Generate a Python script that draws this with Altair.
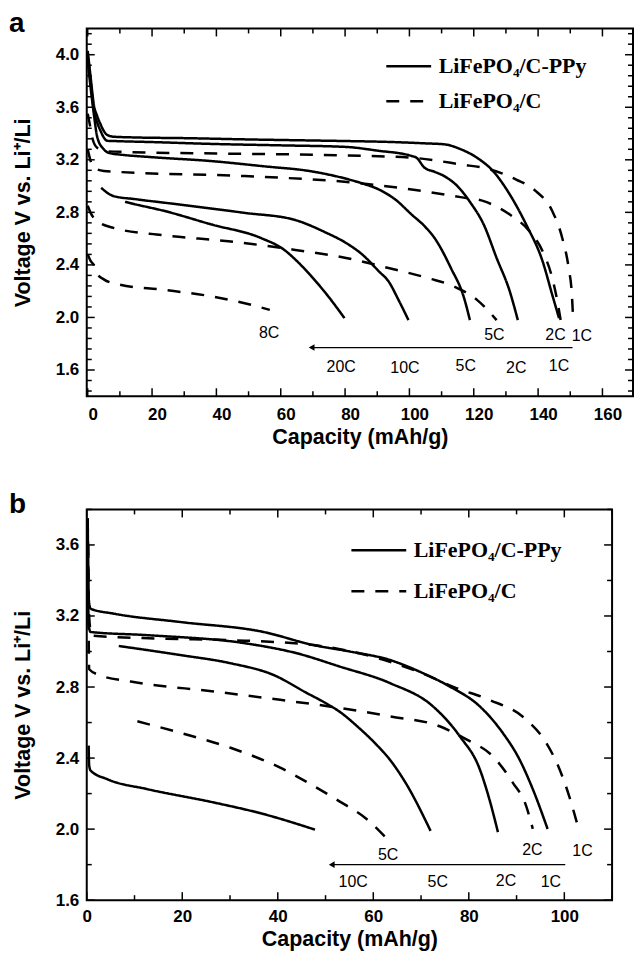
import altair as alt
import pandas as pd

SAMPLE_PPY = "LiFePO\u2084/C-PPy"
SAMPLE_C = "LiFePO\u2084/C"

# ---------------- Panel a : discharge curves ----------------
a_ppy_1C_x = [0, 0.9, 1.9, 3, 4, 5, 6, 8, 15, 30, 50, 70, 80, 95, 105, 110.8, 116, 121, 126, 131.2, 136.3, 141.4, 144.4, 146.5]
a_ppy_1C_y = [4.03, 3.83, 3.62, 3.53, 3.47, 3.42, 3.39, 3.376, 3.37, 3.365, 3.355, 3.347, 3.343, 3.335, 3.325, 3.318, 3.28, 3.216, 3.114, 2.936, 2.707, 2.427, 2.172, 1.995]
a_ppy_2C_x = [0, 0.9, 1.9, 3, 4, 5, 6, 8, 20, 40, 60, 80.3, 90, 100.7, 102.2, 104.7, 107.8, 110.8, 114.9, 119, 123.1, 127.1, 131.2, 133.7]
a_ppy_2C_y = [4.0, 3.8, 3.58, 3.48, 3.42, 3.37, 3.345, 3.343, 3.335, 3.32, 3.31, 3.298, 3.27, 3.229, 3.216, 3.14, 3.109, 3.076, 3.0, 2.873, 2.707, 2.453, 2.198, 1.98]
a_ppy_5C_x = [0, 0.9, 1.9, 3, 5, 7, 10, 20, 38.6, 55, 69.1, 80.3, 85.4, 90.5, 95.6, 100.7, 104.7, 107.8, 112.9, 117, 118.8]
a_ppy_5C_y = [3.95, 3.75, 3.55, 3.37, 3.28, 3.25, 3.24, 3.22, 3.19, 3.15, 3.114, 3.056, 3.02, 2.974, 2.898, 2.783, 2.695, 2.605, 2.376, 2.147, 1.98]
a_ppy_10C_x = [4.2, 6, 8, 15, 28.4, 48.8, 64, 74.2, 80.3, 85.4, 90.5, 93.5, 96.6, 99.7]
a_ppy_10C_y = [2.987, 2.95, 2.924, 2.9, 2.86, 2.796, 2.745, 2.644, 2.567, 2.478, 2.351, 2.275, 2.134, 1.98]
a_ppy_20C_x = [11.6, 15, 23.3, 38.6, 53.8, 61, 65, 69.1, 75.2, 79.8]
a_ppy_20C_y = [2.88, 2.86, 2.814, 2.707, 2.605, 2.516, 2.43, 2.325, 2.147, 1.995]

a_c_1C_x = [0, 0.8, 1.5, 3, 6, 13.1, 40, 79.3, 100.7, 115.9, 125.1, 133.2, 139.3, 144.4, 147.5, 149.5, 150.5, 150.8]
a_c_1C_y = [3.55, 3.45, 3.36, 3.29, 3.265, 3.259, 3.248, 3.234, 3.216, 3.165, 3.127, 3.05, 2.962, 2.81, 2.605, 2.376, 2.172, 2.033]
a_c_2C_x = [0, 0.8, 1.9, 5, 10, 48.8, 83.4, 100.7, 115.9, 123.1, 131.2, 137.3, 141.4, 144.4, 146, 147]
a_c_2C_y = [3.28, 3.2, 3.14, 3.115, 3.107, 3.076, 3.025, 2.974, 2.916, 2.885, 2.783, 2.657, 2.504, 2.3, 2.122, 1.98]
a_c_5C_x = [0, 0.9, 3, 8, 23.3, 43.7, 64, 80.3, 93.5, 105.7, 113.9, 121, 127.1]
a_c_5C_y = [2.85, 2.796, 2.733, 2.682, 2.626, 2.58, 2.516, 2.453, 2.376, 2.3, 2.236, 2.134, 1.98]
a_c_8C_x = [0, 0.9, 1.9, 3, 5, 10, 23.3, 38.6, 50.8, 56.6]
a_c_8C_y = [2.48, 2.43, 2.40, 2.33, 2.29, 2.249, 2.211, 2.16, 2.096, 2.058]

a_below_text = ["20C", "10C", "5C", "2C", "1C"]
a_below_x = [78.8, 98.6, 117.5, 133.2, 146.5]
a_below_y = [1.623, 1.613, 1.631, 1.613, 1.631]
a_above_text = ["8C", "5C", "2C", "1C"]
a_above_x = [56.4, 126.4, 145.4, 153.6]
a_above_y = [1.885, 1.867, 1.867, 1.855]
a_arrow_from = [150.7]
a_arrow_to = [69.6]
a_arrow_y = [1.771]

a_x_major = [0, 20, 40, 60, 80, 100, 120, 140, 160]
a_x_minor = [10, 30, 50, 70, 90, 110, 130, 150]
a_y_major = [1.6, 2.0, 2.4, 2.8, 3.2, 3.6, 4.0]
a_y_minor = [1.44, 1.52, 1.68, 1.76, 1.84, 1.92, 2.08, 2.16, 2.24, 2.32, 2.48, 2.56, 2.64, 2.72,
             2.88, 2.96, 3.04, 3.12, 3.28, 3.36, 3.44, 3.52, 3.68, 3.76, 3.84, 3.92, 4.08, 4.16]

# ---------------- Panel b : discharge curves ----------------
b_ppy_1C_x = [0.2, 0.4, 0.8, 5.7, 19.6, 37, 47.5, 55.1, 63.5, 70.4, 76, 82.3, 87.1, 90.6, 93.4, 96.5]
b_ppy_1C_y = [3.75, 3.3, 3.241, 3.213, 3.166, 3.11, 3.036, 3.0, 2.952, 2.878, 2.803, 2.691, 2.542, 2.393, 2.225, 2.001]
b_ppy_2C_x = [0.2, 0.4, 0.8, 12.7, 33.5, 44, 53, 63.5, 72.5, 78.1, 82.3, 84.3, 86.1]
b_ppy_2C_y = [3.7, 3.15, 3.11, 3.092, 3.045, 2.99, 2.915, 2.822, 2.691, 2.523, 2.337, 2.169, 1.983]
b_ppy_5C_x = [6.7, 19.6, 30.1, 39.1, 46.1, 50, 53, 57, 60.5, 63.5, 67, 72]
b_ppy_5C_y = [3.031, 2.98, 2.934, 2.868, 2.766, 2.71, 2.66, 2.57, 2.48, 2.39, 2.25, 1.99]
b_ppy_10C_x = [0.4, 0.5, 0.8, 4.3, 12.7, 26.6, 37, 47.8]
b_ppy_10C_y = [2.47, 2.36, 2.33, 2.281, 2.225, 2.15, 2.085, 1.997]

b_c_1C_x = [0.2, 0.5, 1, 14.8, 30.1, 47.5, 60, 70, 77.4, 84.3, 92, 96.2, 99, 101, 102.6, 103]
b_c_1C_y = [3.75, 3.2, 3.09, 3.073, 3.064, 3.036, 2.97, 2.88, 2.794, 2.728, 2.617, 2.486, 2.337, 2.187, 2.039, 2.0]
b_c_2C_x = [0.3, 0.5, 2.6, 9.2, 26.6, 40.5, 53, 63.5, 73.9, 79.5, 85, 89.2, 92, 93.4]
b_c_2C_y = [3.6, 2.9, 2.868, 2.831, 2.775, 2.728, 2.682, 2.635, 2.579, 2.505, 2.411, 2.262, 2.131, 2.001]
b_c_5C_x = [10.6, 19.6, 30.1, 40.5, 47.5, 53, 58.6, 63.5]
b_c_5C_y = [2.607, 2.542, 2.458, 2.346, 2.243, 2.155, 2.057, 1.927]

b_below_text = ["10C", "5C", "2C", "1C"]
b_below_x = [55.8, 73.5, 87.8, 97.2]
b_below_y = [1.703, 1.703, 1.71, 1.703]
b_above_text = ["5C", "2C", "1C"]
b_above_x = [63.1, 93.3, 103.8]
b_above_y = [1.852, 1.884, 1.877]
b_arrow_from = [100.2]
b_arrow_to = [51.3]
b_arrow_y = [1.8]

b_x_major = [0, 20, 40, 60, 80, 100]
b_x_minor = [10, 30, 50, 70, 90, 110]
b_y_major = [1.6, 2.0, 2.4, 2.8, 3.2, 3.6]
b_y_minor = [1.8, 2.2, 2.6, 3.0, 3.4, 3.8]

SANS = "Liberation Sans"
SERIF = "Liberation Serif"


def curves_frame(curves):
    rows = []
    for name, sample, xs, ys in curves:
        for i, (x, y) in enumerate(zip(xs, ys)):
            rows.append({"x": x, "y": y, "curve": name, "sample": sample, "i": i})
    return pd.DataFrame(rows)


def panel(curves, letter, xdom, ydom, w, h, xmaj, xmin, ymaj, ymin,
          below, above, arrow, leg, xlabpad, xtitlepad, xlaboff):
    xs = alt.Scale(domain=xdom, nice=False, zero=False)
    ys = alt.Scale(domain=ydom, nice=False, zero=False)
    xax = alt.Axis(values=xmaj, format="d", title="Capacity (mAh/g)", ticks=False,
                   tickSize=0, domain=False, grid=False, labelPadding=xlabpad,
                   labelOffset=xlaboff, titlePadding=xtitlepad, labelFlush=False)
    yax = alt.Axis(values=ymaj, format=".1f", title="Voltage V vs. Li\u207a/Li",
                   ticks=False, tickSize=0, domain=False, grid=False, labelPadding=8,
                   titlePadding=21, labelFlush=False)

    def X(f):
        return alt.X(f, scale=xs, axis=xax, title="Capacity (mAh/g)")

    def Y(f):
        return alt.Y(f, scale=ys, axis=yax, title="Voltage V vs. Li\u207a/Li")

    df = curves_frame(curves)

    lines = alt.Chart(df).mark_line(strokeWidth=2.5, color="black", interpolate="monotone",
                                    strokeCap="butt").encode(
        x=X("x:Q"),
        y=Y("y:Q"),
        detail="curve:N",
        order="i:Q",
        strokeDash=alt.StrokeDash(
            "sample:N",
            scale=alt.Scale(domain=[SAMPLE_PPY, SAMPLE_C], range=[[1, 0], [13, 11]]),
            legend=alt.Legend(orient="none", legendX=leg[0], legendY=leg[1], title=None,
                              symbolType="stroke", symbolSize=leg[2] ** 2,
                              symbolStrokeWidth=2.5, symbolStrokeColor="black",
                              labelFont=SERIF, labelFontSize=22, labelFontWeight="bold",
                              labelColor="black", labelOffset=6, labelLimit=0,
                              rowPadding=leg[3], padding=0)),
    )

    layers = [lines]

    def rules_x(vals, length):
        d = pd.DataFrame({"x": vals})
        base = alt.Chart(d).mark_rule(color="black", strokeWidth=1.5)
        return [base.encode(x=X("x:Q"), y=alt.value(0), y2=alt.value(length)),
                base.encode(x=X("x:Q"), y=alt.value(h), y2=alt.value(h - length))]

    def rules_y(vals, length):
        d = pd.DataFrame({"y": vals})
        base = alt.Chart(d).mark_rule(color="black", strokeWidth=1.5)
        return [base.encode(y=Y("y:Q"), x=alt.value(0), x2=alt.value(length)),
                base.encode(y=Y("y:Q"), x=alt.value(w), x2=alt.value(w - length))]

    layers += rules_x(xmaj, 8) + rules_x(xmin, 5) + rules_y(ymaj, 8) + rules_y(ymin, 5)

    for texts, tx, ty in (below, above):
        d = pd.DataFrame({"t": texts, "x": tx, "y": ty})
        layers.append(alt.Chart(d).mark_text(font=SANS, fontSize=16, color="black",
                                             baseline="middle", align="center").encode(
            x=X("x:Q"), y=Y("y:Q"), text="t:N"))

    ad = pd.DataFrame({"x": arrow[0], "x2": arrow[1], "y": arrow[2]})
    layers.append(alt.Chart(ad).mark_rule(color="black", strokeWidth=1.2).encode(
        x=X("x:Q"), x2="x2:Q", y=Y("y:Q")))
    layers.append(alt.Chart(ad).mark_point(shape="triangle-left", filled=True, color="black",
                                           size=45, opacity=1).encode(
        x=X("x2:Q"), y=Y("y:Q")))

    ld = pd.DataFrame({"t": [letter]})
    layers.append(alt.Chart(ld).mark_text(font=SANS, fontSize=28, fontWeight="bold", color="black",
                                          align="left", baseline="alphabetic").encode(
        x=alt.value(-78), y=alt.value(4), text="t:N"))

    return alt.layer(*layers).properties(width=w, height=h)


pa = panel(
    [("a1C", SAMPLE_PPY, a_ppy_1C_x, a_ppy_1C_y), ("a2C", SAMPLE_PPY, a_ppy_2C_x, a_ppy_2C_y),
     ("a5C", SAMPLE_PPY, a_ppy_5C_x, a_ppy_5C_y), ("a10C", SAMPLE_PPY, a_ppy_10C_x, a_ppy_10C_y),
     ("a20C", SAMPLE_PPY, a_ppy_20C_x, a_ppy_20C_y),
     ("ac1C", SAMPLE_C, a_c_1C_x, a_c_1C_y), ("ac2C", SAMPLE_C, a_c_2C_x, a_c_2C_y),
     ("ac5C", SAMPLE_C, a_c_5C_x, a_c_5C_y), ("ac8C", SAMPLE_C, a_c_8C_x, a_c_8C_y)],
    "a", [-0.3, 169.5], [1.4, 4.2], 548, 369, a_x_major, a_x_minor, a_y_major, a_y_minor,
    (a_below_text, a_below_x, a_below_y), (a_above_text, a_above_x, a_above_y),
    (a_arrow_from, a_arrow_to, a_arrow_y), (299, 14, 45, -2), 10.5, 4, 5)

pb = panel(
    [("b1C", SAMPLE_PPY, b_ppy_1C_x, b_ppy_1C_y), ("b2C", SAMPLE_PPY, b_ppy_2C_x, b_ppy_2C_y),
     ("b5C", SAMPLE_PPY, b_ppy_5C_x, b_ppy_5C_y), ("b10C", SAMPLE_PPY, b_ppy_10C_x, b_ppy_10C_y),
     ("bc1C", SAMPLE_C, b_c_1C_x, b_c_1C_y), ("bc2C", SAMPLE_C, b_c_2C_x, b_c_2C_y),
     ("bc5C", SAMPLE_C, b_c_5C_x, b_c_5C_y)],
    "b", [0, 110], [1.6, 3.8], 527, 392, b_x_major, b_x_minor, b_y_major, b_y_minor,
    (b_below_text, b_below_x, b_below_y), (b_above_text, b_above_x, b_above_y),
    (b_arrow_from, b_arrow_to, b_arrow_y), (264, 12, 55, 1), 8.5, 4, 0)

chart = alt.vconcat(pa, pb, spacing=41.5).resolve_scale(
    strokeDash="independent", x="independent", y="independent"
).resolve_legend(strokeDash="independent").properties(
    padding=0
).configure_view(
    stroke="black", strokeWidth=2
).configure_axis(
    labelFont=SANS, labelFontSize=17, labelFontWeight="bold", labelColor="black",
    titleFont=SANS, titleFontSize=21.5, titleFontWeight="bold", titleColor="black"
)

chart.save("out.html", embed_options={"renderer": "svg", "actions": False})
